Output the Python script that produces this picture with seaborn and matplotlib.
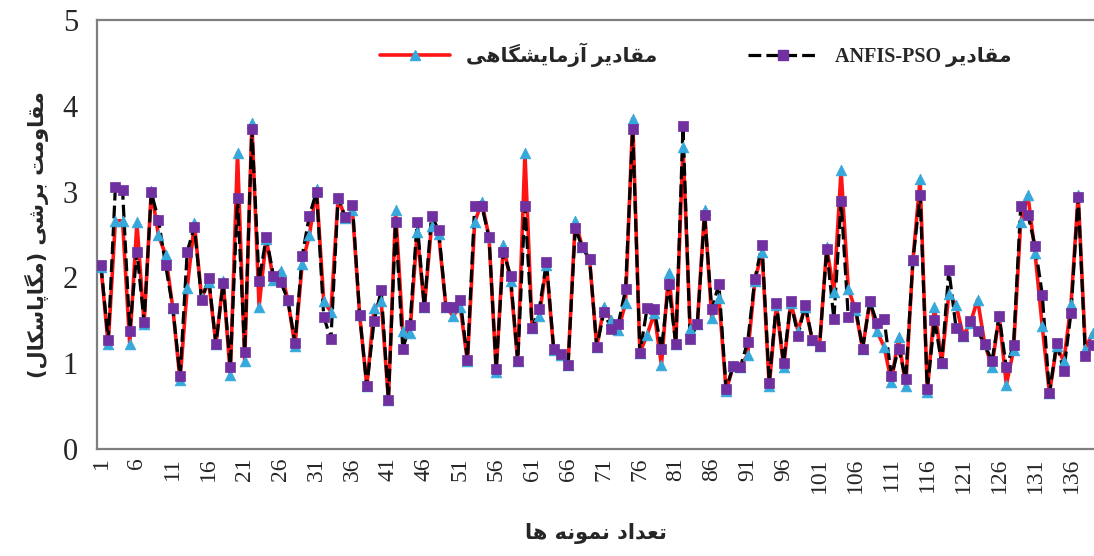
import matplotlib
matplotlib.use("Agg")
import matplotlib.pyplot as plt
from matplotlib.lines import Line2D
import seaborn as sns
import numpy as np

# experimental (lab) shear strength and ANFIS-PSO predictions, MPa
lab = [2.12, 1.22, 2.66, 2.66, 1.22, 2.64, 1.46, 3.01, 2.49, 2.26,
       1.64, 0.80, 1.88, 2.63, 1.76, 1.95, 1.22, 1.96, 0.86, 3.45,
       1.02, 3.80, 1.66, 2.45, 1.97, 2.08, 1.74, 1.20, 2.16, 2.49,
       3.03, 1.72, 1.60, 2.93, 2.69, 2.78, 1.56, 0.73, 1.64, 1.72,
       0.57, 2.78, 1.38, 1.35, 2.53, 1.65, 2.60, 2.50, 1.66, 1.55,
       1.66, 1.02, 2.64, 2.88, 2.47, 0.90, 2.38, 1.96, 1.02, 3.45,
       1.41, 1.55, 2.15, 1.15, 1.10, 0.98, 2.66, 2.35, 2.21, 1.19,
       1.66, 1.50, 1.39, 1.70, 3.85, 1.12, 1.33, 1.58, 0.98, 2.05,
       1.22, 3.52, 1.40, 1.46, 2.78, 1.53, 1.76, 0.68, 0.97, 0.96,
       1.10, 1.96, 2.30, 0.73, 1.68, 0.96, 1.70, 1.38, 1.66, 1.27,
       1.20, 2.35, 1.83, 3.25, 1.87, 1.62, 1.17, 1.73, 1.37, 1.19,
       0.78, 1.30, 0.73, 2.20, 3.15, 0.66, 1.66, 1.00, 1.81, 1.68,
       1.32, 1.47, 1.74, 1.22, 0.96, 1.55, 0.75, 1.15, 2.65, 2.96,
       2.28, 1.43, 0.65, 1.20, 1.02, 1.69, 2.96, 1.17, 1.35]

anfis = [2.14, 1.27, 3.05, 3.02, 1.38, 2.30, 1.48, 2.99, 2.67, 2.14,
         1.64, 0.85, 2.30, 2.59, 1.74, 1.99, 1.22, 1.94, 0.96, 2.92,
         1.13, 3.73, 1.96, 2.47, 2.02, 1.95, 1.74, 1.24, 2.25, 2.72,
         3.00, 1.54, 1.28, 2.93, 2.70, 2.84, 1.56, 0.73, 1.49, 1.85,
         0.57, 2.64, 1.17, 1.44, 2.65, 1.65, 2.72, 2.55, 1.66, 1.65,
         1.74, 1.04, 2.83, 2.83, 2.47, 0.93, 2.30, 2.02, 1.02, 2.83,
         1.41, 1.63, 2.18, 1.17, 1.11, 0.98, 2.57, 2.35, 2.21, 1.19,
         1.60, 1.40, 1.46, 1.86, 3.73, 1.12, 1.64, 1.63, 1.16, 1.92,
         1.22, 3.76, 1.28, 1.46, 2.73, 1.63, 1.92, 0.70, 0.97, 0.96,
         1.25, 1.98, 2.38, 0.77, 1.70, 1.00, 1.72, 1.32, 1.68, 1.27,
         1.20, 2.33, 1.51, 2.89, 1.54, 1.65, 1.17, 1.72, 1.47, 1.51,
         0.85, 1.17, 0.82, 2.20, 2.96, 0.70, 1.50, 1.00, 2.09, 1.41,
         1.32, 1.49, 1.37, 1.22, 1.02, 1.55, 0.95, 1.21, 2.83, 2.73,
         2.37, 1.80, 0.65, 1.23, 0.91, 1.59, 2.94, 1.08, 1.21]

samples = np.arange(1, len(lab) + 1)
xticks = list(range(1, 137, 5))
yticks = [0, 1, 2, 3, 4, 5]

label_lab = "مقادیر آزمایشگاهی"
label_model = "مقادیر"
ylabel = "مقاومت برشی (مگاپاسکال)"
xlabel = "تعداد نمونه ها"

# matplotlib has no arabic shaping -> pick presentation forms by hand, then reverse
FORMS = {
    'ا': ('\uFE8D', '\uFE8E', None, None),
    'آ': ('\uFE81', '\uFE82', None, None),
    'ب': ('\uFE8F', '\uFE90', '\uFE91', '\uFE92'),
    'پ': ('\uFB56', '\uFB57', '\uFB58', '\uFB59'),
    'ت': ('\uFE95', '\uFE96', '\uFE97', '\uFE98'),
    'د': ('\uFEA9', '\uFEAA', None, None),
    'ر': ('\uFEAD', '\uFEAE', None, None),
    'ز': ('\uFEAF', '\uFEB0', None, None),
    'س': ('\uFEB1', '\uFEB2', '\uFEB3', '\uFEB4'),
    'ش': ('\uFEB5', '\uFEB6', '\uFEB7', '\uFEB8'),
    'ع': ('\uFEC9', '\uFECA', '\uFECB', '\uFECC'),
    'ق': ('\uFED5', '\uFED6', '\uFED7', '\uFED8'),
    'ک': ('\uFB8E', '\uFB8F', '\uFB90', '\uFB91'),
    'گ': ('\uFB92', '\uFB93', '\uFB94', '\uFB95'),
    'ل': ('\uFEDD', '\uFEDE', '\uFEDF', '\uFEE0'),
    'م': ('\uFEE1', '\uFEE2', '\uFEE3', '\uFEE4'),
    'ن': ('\uFEE5', '\uFEE6', '\uFEE7', '\uFEE8'),
    'ه': ('\uFEE9', '\uFEEA', '\uFEEB', '\uFEEC'),
    'و': ('\uFEED', '\uFEEE', None, None),
    'ی': ('\uFBFC', '\uFBFD', '\uFBFE', '\uFBFF'),
}


def fa(text):
    out = []
    for i, ch in enumerate(text):
        if ch not in FORMS:
            out.append({'(': ')', ')': '('}.get(ch, ch))
            continue
        iso, fin, ini, med = FORMS[ch]
        prev = text[i - 1] if i > 0 else ''
        nxt = text[i + 1] if i + 1 < len(text) else ''
        join_prev = prev in FORMS and FORMS[prev][2] is not None
        join_next = ini is not None and nxt in FORMS
        if join_prev and join_next:
            out.append(med)
        elif join_prev:
            out.append(fin)
        elif join_next:
            out.append(ini)
        else:
            out.append(iso)
    return ''.join(reversed(out))


sns.set_style("white")
plt.rcParams['font.family'] = ['Liberation Serif', 'DejaVu Sans']

RED = '#FF1414'
BLUE = '#35A8DC'
PURPLE = '#7030A0'
GREY = '#7F7F7F'

fig = plt.figure(figsize=(10.94, 5.56), dpi=100)
ax = fig.add_axes([97.4 / 1094, 1 - 449 / 556, (1094 - 97.4) / 1094, 429 / 556])

sns.lineplot(x=samples, y=lab, color=RED, linewidth=2.6, ax=ax, zorder=2)
sns.lineplot(x=samples, y=anfis, color='black', linewidth=2.3, ax=ax,
             zorder=3, dashes=False, linestyle=(0, (4, 1.6)))
sns.scatterplot(x=samples, y=lab, marker='^', s=60, color=BLUE,
                edgecolor=BLUE, linewidth=0.5, ax=ax, zorder=4)
sns.scatterplot(x=samples, y=anfis, marker='s', s=48, color=PURPLE,
                edgecolor=PURPLE, linewidth=0.5, ax=ax, zorder=5)

ax.set_xlim(0.5, 139.2)
ax.set_ylim(0, 5)
ax.set_xticks(xticks)
ax.set_xticklabels([str(t) for t in xticks], rotation=90, fontsize=17)
ax.set_yticks(yticks)
ax.set_yticklabels([str(t) for t in yticks], fontsize=22)
ax.tick_params(axis='x', direction='out', length=5, width=1.3, color=GREY, pad=1)
ax.tick_params(axis='y', direction='out', length=6, width=1.3, color=GREY, pad=8)

for side in ['left', 'bottom', 'top']:
    ax.spines[side].set_color(GREY)
    ax.spines[side].set_linewidth(1.6)
ax.spines['right'].set_visible(False)

ax.set_xlabel(fa(xlabel), fontsize=15, fontweight='bold', family=['DejaVu Sans'], labelpad=22)
ax.set_ylabel(fa(ylabel), fontsize=15, fontweight='bold', family=['DejaVu Sans'], labelpad=10)

handles = [
    Line2D([], [], color=RED, linewidth=2.6, marker='^', markersize=7,
           markerfacecolor=BLUE, markeredgecolor=BLUE),
    Line2D([], [], color='black', linewidth=2.3, linestyle=(0, (4, 1.6)), marker='s',
           markersize=6.5, markerfacecolor=PURPLE, markeredgecolor=PURPLE),
]
labels = [fa(label_lab), 'ANFIS-PSO ' + fa(label_model)]
ax.legend(handles, labels, loc='center', bbox_to_anchor=(0.60, 0.918), ncol=2,
          frameon=False, handlelength=3.5, columnspacing=4.5,
          prop={'family': ['Liberation Serif', 'DejaVu Sans'], 'weight': 'bold', 'size': 14.5})

fig.savefig("out.png", dpi=100)
